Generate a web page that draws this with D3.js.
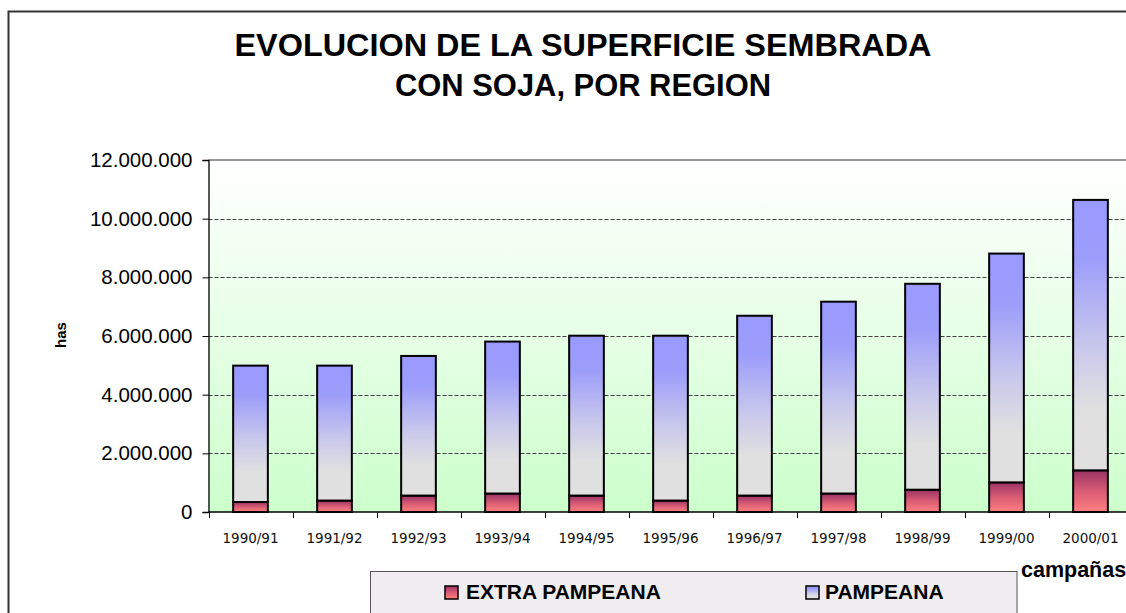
<!DOCTYPE html>
<html>
<head>
<meta charset="utf-8">
<script src="https://cdn.jsdelivr.net/npm/d3@7"></script>
<style>
  html, body { margin: 0; padding: 0; background: #ffffff; overflow: hidden; }
  svg { display: block; }
</style>
</head>
<body>
<svg id="chart" width="1126" height="613"></svg>
<script>
// ---- data ----
const categories = ["1990/91","1991/92","1992/93","1993/94","1994/95","1995/96","1996/97","1997/98","1998/99","1999/00","2000/01"];
const extraPampeana = [340000, 390000, 560000, 630000, 560000, 390000, 560000, 630000, 760000, 1010000, 1420000];
const pampeana = [4650000, 4600000, 4760000, 5180000, 5450000, 5620000, 6130000, 6540000, 7020000, 7800000, 9220000];
const yTicks = [0, 2000000, 4000000, 6000000, 8000000, 10000000, 12000000];
const seriesNames = ["EXTRA PAMPEANA", "PAMPEANA"];
const titleLines = ["EVOLUCION DE LA SUPERFICIE SEMBRADA", "CON SOJA, POR REGION"];
const yTitle = "has";
const xTitle = "campañas";

// ---- layout ----
const W = 1126, H = 613;
const plotLeft = 208.5, plotTop = 160, plotBottom = 512;
const step = 84;
const plotRight = plotLeft + categories.length * step;

const svg = d3.select("#chart");
const defs = svg.append("defs");

function grad(id, stops) {
  const g = defs.append("linearGradient").attr("id", id)
    .attr("x1", 0).attr("y1", 0).attr("x2", 0).attr("y2", 1);
  stops.forEach(s => g.append("stop").attr("offset", s[0]).attr("stop-color", s[1]));
}
grad("bgGrad", [[0, "#ffffff"], [1, "#ccffcc"]]);
grad("pampGrad", [[0, "#9999ff"], [0.22, "#9d9dfb"], [0.55, "#c9c9ec"], [0.78, "#e0e0e0"], [1, "#e0e0e0"]]);
grad("extraGrad", [[0, "#993366"], [0.5, "#d95c74"], [1, "#ff8080"]]);

// chart frame
svg.append("rect").attr("x", 8.5).attr("y", 11.5).attr("width", W + 20).attr("height", H + 20)
  .attr("fill", "#ffffff").attr("stroke", "#333333").attr("stroke-width", 2);

// title
const fontArial = "'Liberation Sans', Arial, sans-serif";
const titleWidths = [697, 376];
svg.append("g").selectAll("text").data(titleLines).join("text")
  .attr("x", 583).attr("y", (d, i) => 56 + i * 40)
  .attr("text-anchor", "middle")
  .attr("font-family", fontArial).attr("font-weight", "bold").attr("font-size", 31)
  .attr("textLength", (d, i) => titleWidths[i]).attr("lengthAdjust", "spacingAndGlyphs")
  .attr("fill", "#000").text(d => d);

// scales
const x = d3.scaleBand().domain(categories).range([plotLeft, plotRight])
  .paddingInner(0.587).paddingOuter(0.2935);
const y = d3.scaleLinear().domain([0, 12000000]).range([plotBottom, plotTop]);

// plot background
svg.append("rect").attr("x", plotLeft).attr("y", plotTop)
  .attr("width", plotRight - plotLeft).attr("height", plotBottom - plotTop)
  .attr("fill", "url(#bgGrad)");

// gridlines
svg.append("g").selectAll("line").data(yTicks.filter(t => t > 0 && t < 12000000)).join("line")
  .attr("x1", plotLeft).attr("x2", plotRight)
  .attr("y1", d => Math.round(y(d)) + 0.5).attr("y2", d => Math.round(y(d)) + 0.5)
  .attr("stroke", "#404040").attr("stroke-width", 1).attr("stroke-dasharray", "4,2");
// top border of plot area
svg.append("line").attr("x1", plotLeft).attr("x2", plotRight)
  .attr("y1", y(12000000)).attr("y2", y(12000000))
  .attr("stroke", "#999999").attr("stroke-width", 2);

// stacked bars
const table = categories.map((c, i) => ({ cat: c, extra: extraPampeana[i], pamp: pampeana[i] }));
const stack = d3.stack().keys(["extra", "pamp"])(table);
const fills = { extra: "url(#extraGrad)", pamp: "url(#pampGrad)" };
svg.append("g").selectAll("g").data(stack).join("g")
  .attr("fill", d => fills[d.key])
  .selectAll("rect").data(d => d).join("rect")
  .attr("x", d => x(d.data.cat))
  .attr("width", x.bandwidth())
  .attr("y", d => y(d[1]))
  .attr("height", d => y(d[0]) - y(d[1]))
  .attr("stroke", "#000").attr("stroke-width", 2);

// y axis
const loc = d3.formatLocale({ decimal: ",", thousands: ".", grouping: [3], currency: ["$", ""] });
const fmt = loc.format(",d");
const yAxis = svg.append("g").attr("transform", `translate(${plotLeft},0)`)
  .call(d3.axisLeft(y).tickValues(yTicks).tickFormat(fmt).tickSize(6).tickPadding(10));
yAxis.select(".domain").attr("stroke", "#000").attr("stroke-width", 1.3);
yAxis.selectAll(".tick line").attr("stroke", "#000");
yAxis.selectAll("text").attr("font-family", fontArial).attr("font-size", 20.5).attr("fill", "#000");

// x axis
const xAxisG = svg.append("g").attr("transform", `translate(0,${plotBottom})`);
xAxisG.append("line").attr("x1", plotLeft).attr("x2", plotRight).attr("y1", 0).attr("y2", 0)
  .attr("stroke", "#000").attr("stroke-width", 1.3);
xAxisG.selectAll("line.tk").data(d3.range(categories.length + 1)).join("line").attr("class", "tk")
  .attr("x1", i => Math.round(plotLeft + i * x.step()) + 0.5)
  .attr("x2", i => Math.round(plotLeft + i * x.step()) + 0.5)
  .attr("y1", 0).attr("y2", 6).attr("stroke", "#000");
xAxisG.selectAll("text").data(categories).join("text")
  .attr("x", d => x(d) + x.bandwidth() / 2).attr("y", 31)
  .attr("text-anchor", "middle")
  .attr("font-family", "'DejaVu Sans', Verdana, sans-serif").attr("font-size", 13.5)
  .attr("fill", "#111").text(d => d);

// axis titles
svg.append("text").attr("transform", "translate(66,335) rotate(-90)")
  .attr("text-anchor", "middle")
  .attr("font-family", fontArial).attr("font-weight", "bold").attr("font-size", 15)
  .attr("fill", "#000").text(yTitle);
svg.append("text").attr("x", 1021).attr("y", 577)
  .attr("font-family", fontArial).attr("font-weight", "bold").attr("font-size", 21.5)
  .attr("fill", "#000").text(xTitle);

// legend
const lg = svg.append("g");
lg.append("rect").attr("x", 370.5).attr("y", 571.5).attr("width", 646.5).attr("height", 60)
  .attr("fill", "#efedef").attr("stroke", "#555").attr("stroke-width", 1);
const legendX = [445, 806];
const legendTextX = [466, 825];
const legendFill = ["url(#extraGrad)", "url(#pampGrad)"];
seriesNames.forEach((name, i) => {
  lg.append("rect").attr("x", legendX[i]).attr("y", 586).attr("width", 13).attr("height", 13)
    .attr("fill", legendFill[i]).attr("stroke", "#000").attr("stroke-width", 1.5);
  lg.append("text").attr("x", legendTextX[i]).attr("y", 599)
    .attr("font-family", fontArial).attr("font-weight", "bold").attr("font-size", 21)
    .attr("fill", "#000").text(name);
});
</script>
</body>
</html>
